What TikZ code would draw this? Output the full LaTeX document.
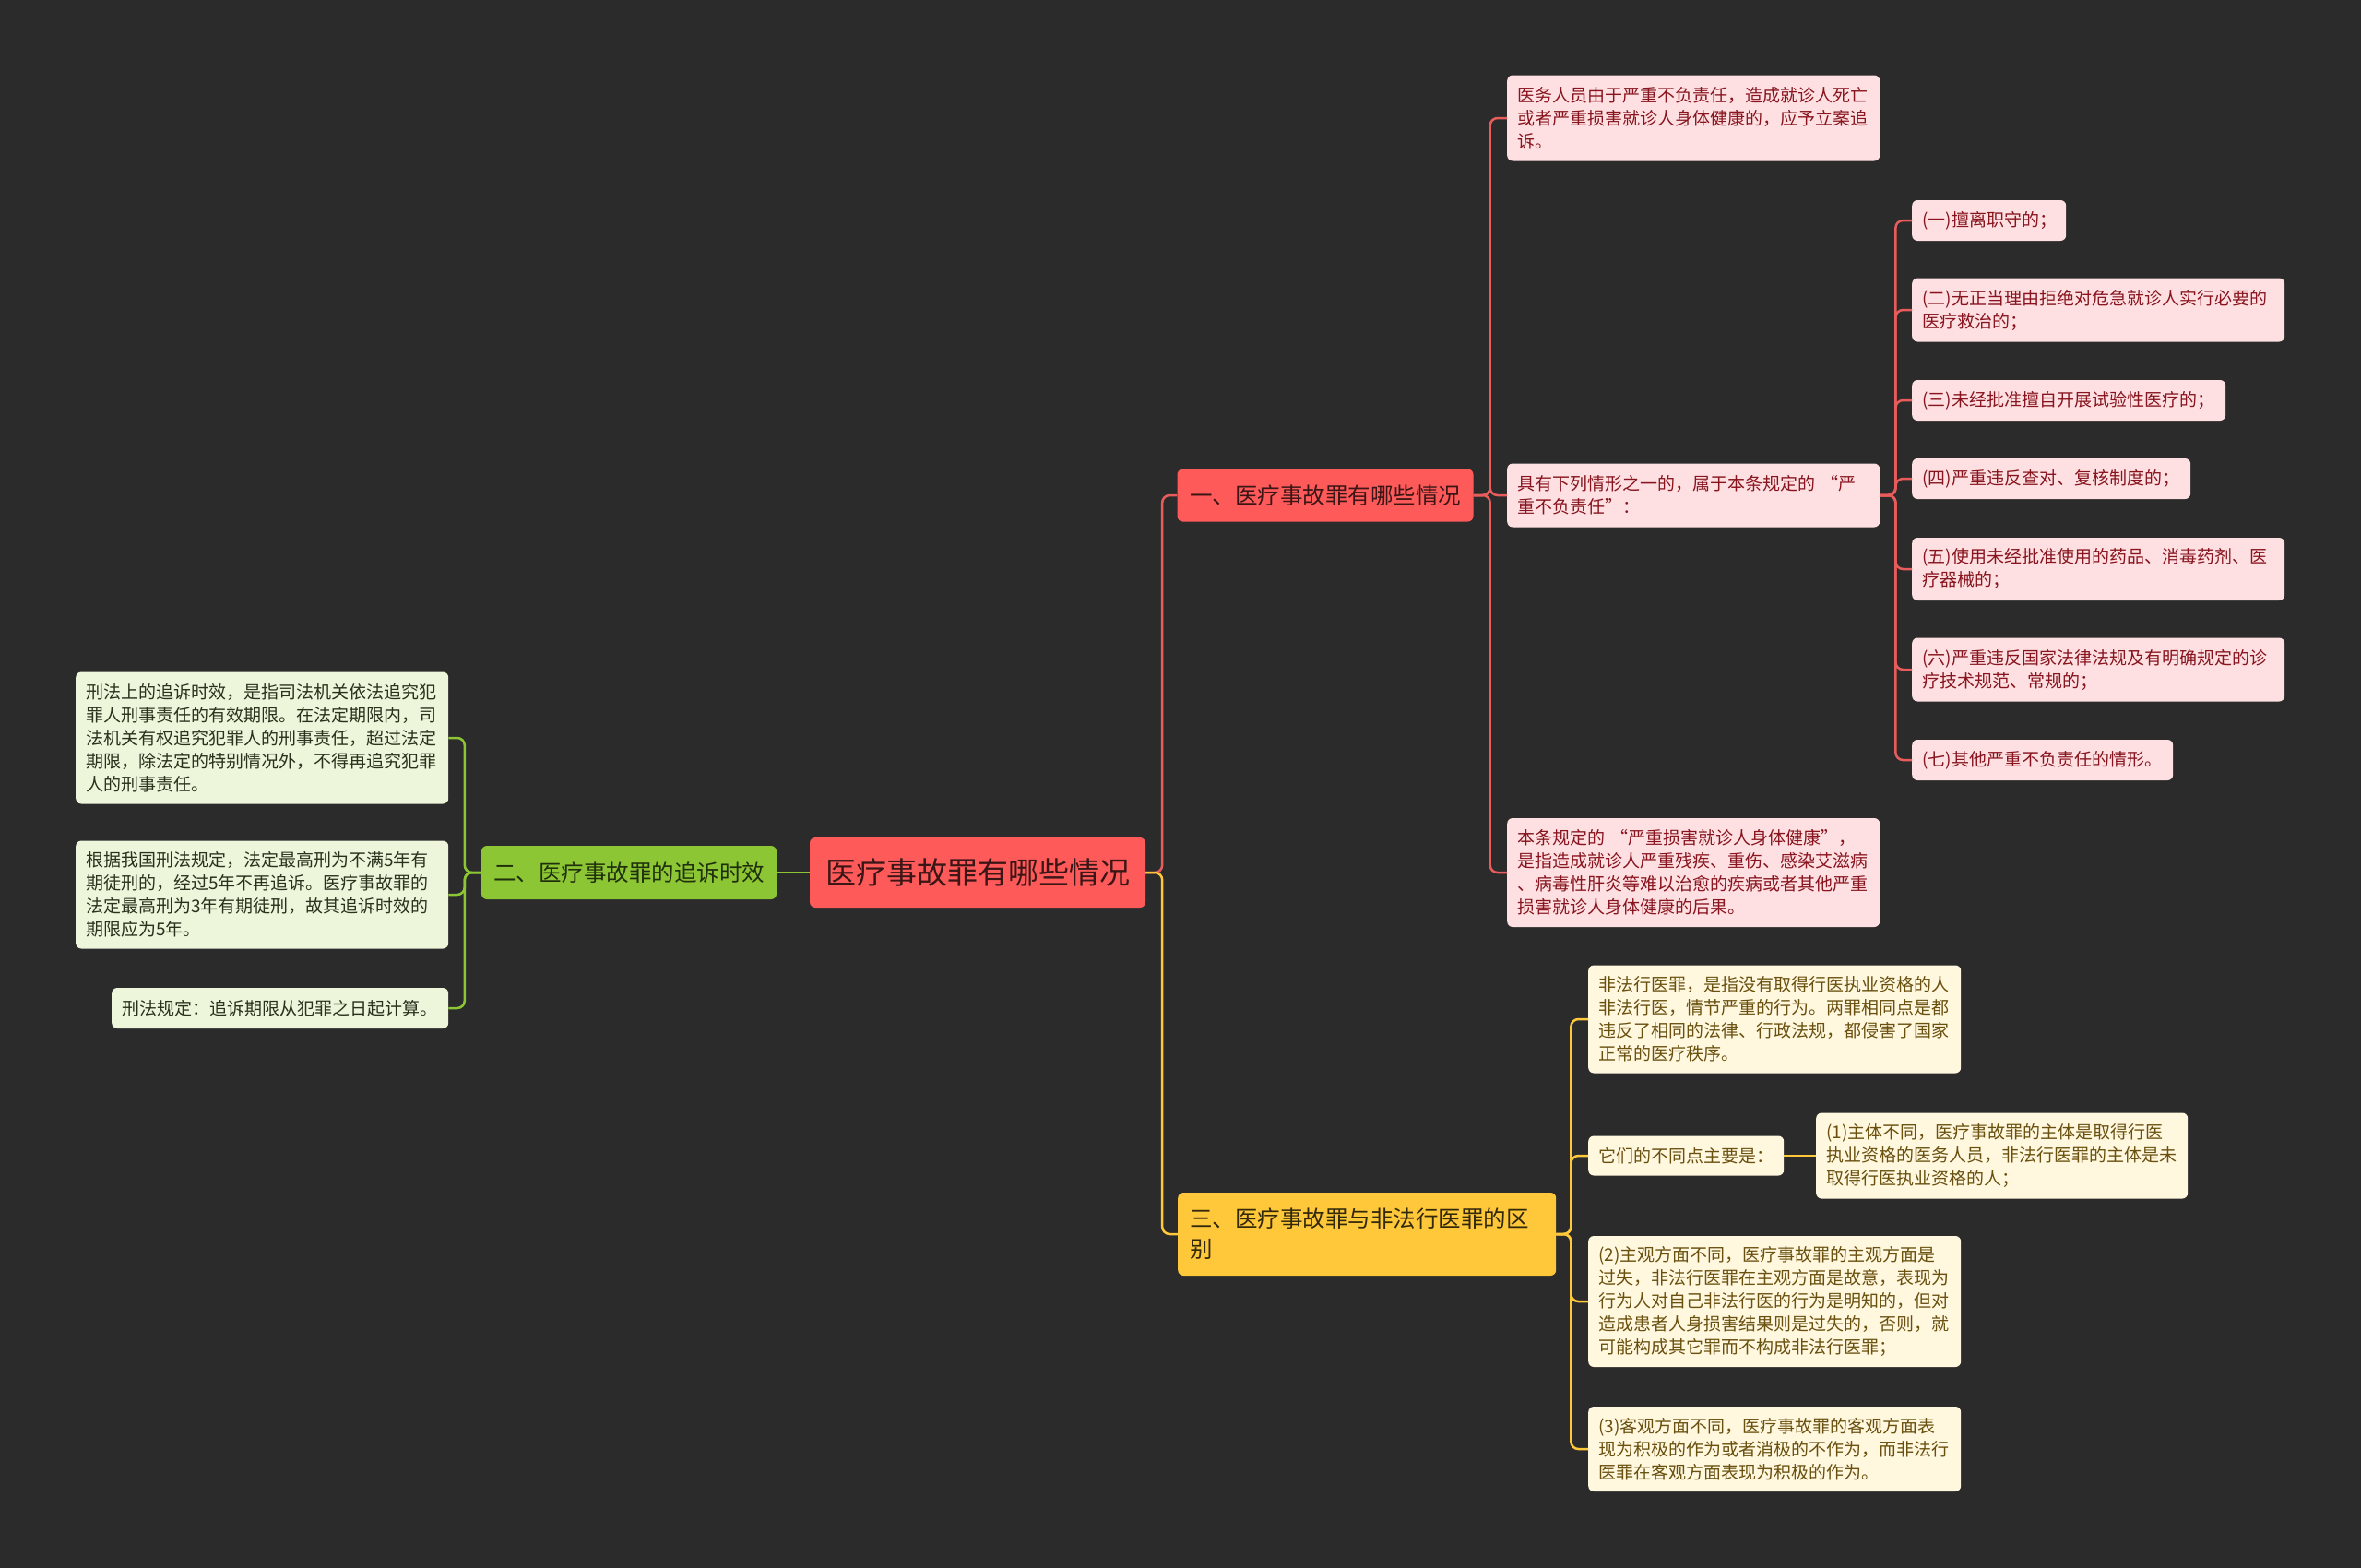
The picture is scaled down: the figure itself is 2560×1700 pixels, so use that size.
\documentclass[tikz,border=0pt]{standalone}
\usepackage{fontspec}
\setmainfont{Noto Sans CJK SC}
\usetikzlibrary{positioning}

\definecolor{bgdark}{RGB}{43,43,43}
\definecolor{rootred}{RGB}{255,90,90}
\definecolor{rootink}{RGB}{60,22,22}
\definecolor{redln}{RGB}{232,92,92}
\definecolor{pinkfill}{RGB}{255,224,226}
\definecolor{pinkink}{RGB}{135,20,30}
\definecolor{grnmain}{RGB}{140,198,52}
\definecolor{grnink}{RGB}{32,48,12}
\definecolor{grnfill}{RGB}{237,245,218}
\definecolor{grnleafink}{RGB}{40,50,28}
\definecolor{ylwmain}{RGB}{255,200,58}
\definecolor{ylwink}{RGB}{50,40,10}
\definecolor{ylwfill}{RGB}{255,247,222}
\definecolor{ylwleafink}{RGB}{105,80,15}

\begin{document}
\begin{tikzpicture}[
  x=1pt, y=-1pt,
  conn/.style={line width=2.5pt, rounded corners=8pt},
  redconn/.style={conn, draw=redln},
  grnconn/.style={conn, draw=grnmain},
  ylwconn/.style={conn, draw=ylwmain},
  box/.style={rounded corners=6pt, inner ysep=0pt},
  topic/.style={box, inner xsep=13pt, font={\fontsize{24.5pt}{33pt}\selectfont}},
  leaf/.style={box, anchor=west, align=left, inner xsep=11pt,
               font={\fontsize{19pt}{25pt}\selectfont}},
  redleaf/.style={leaf, fill=pinkfill, text=pinkink},
  grnleaf/.style={leaf, fill=grnfill, text=grnleafink},
  ylwleaf/.style={leaf, fill=ylwfill, text=ylwleafink},
]
  \fill[bgdark] (0,0) rectangle (2560,1700);

  % root and the three topics
  \node[box, fill=rootred, text=rootink, minimum width=364pt, minimum height=76pt,
        font={\fontsize{33pt}{40pt}\selectfont}] (root) at (1060,946) {医疗事故罪有哪些情况};
  \node[topic, fill=rootred, text=rootink, minimum width=321pt, minimum height=57pt]
    (sitn) at (1437,537) {一、医疗事故罪有哪些情况};
  \node[topic, fill=grnmain, text=grnink, minimum width=320pt, minimum height=58pt]
    (limit) at (682,946) {二、医疗事故罪的追诉时效};
  \node[topic, anchor=west, align=left, text width=384pt, minimum height=90pt,
        fill=ylwmain, text=ylwink] (diff) at (1277,1338)
    {三、医疗事故罪与非法行医罪的区\\别};

  % branch one
  \node[redleaf, text width=382pt, minimum height=93pt] (death) at (1634,128)
    {医务人员由于严重不负责任，造成就诊人死亡\\或者严重损害就诊人身体健康的，应予立案追\\诉。};
  \node[redleaf, text width=382pt, minimum height=69pt] (cases) at (1634,537)
    {具有下列情形之一的，属于本条规定的 “严\\重不负责任”：};
  \node[redleaf, text width=382pt, minimum height=118pt] (harm) at (1634,946)
    {本条规定的 “严重损害就诊人身体健康”，\\是指造成就诊人严重残疾、重伤、感染艾滋病\\、病毒性肝炎等难以治愈的疾病或者其他严重\\损害就诊人身体健康的后果。};

  \node[redleaf, text width=145pt, minimum height=44pt] (c1) at (2073,239) {(一)擅离职守的；};
  \node[redleaf, text width=382pt, minimum height=69pt] (c2) at (2073,336)
    {(二)无正当理由拒绝对危急就诊人实行必要的\\医疗救治的；};
  \node[redleaf, text width=318pt, minimum height=44pt] (c3) at (2073,434) {(三)未经批准擅自开展试验性医疗的；};
  \node[redleaf, text width=280pt, minimum height=44pt] (c4) at (2073,519) {(四)严重违反查对、复核制度的；};
  \node[redleaf, text width=382pt, minimum height=68pt] (c5) at (2073,617)
    {(五)使用未经批准使用的药品、消毒药剂、医\\疗器械的；};
  \node[redleaf, text width=382pt, minimum height=69pt] (c6) at (2073,726)
    {(六)严重违反国家法律法规及有明确规定的诊\\疗技术规范、常规的；};
  \node[redleaf, text width=261pt, minimum height=44pt] (c7) at (2073,824) {(七)其他严重不负责任的情形。};

  % branch two
  \node[grnleaf, text width=382pt, minimum height=143pt] (term) at (82,800)
    {刑法上的追诉时效，是指司法机关依法追究犯\\罪人刑事责任的有效期限。在法定期限内，司\\法机关有权追究犯罪人的刑事责任，超过法定\\期限，除法定的特别情况外，不得再追究犯罪\\人的刑事责任。};
  \node[grnleaf, text width=382pt, minimum height=117pt] (fiveyr) at (82,970)
    {根据我国刑法规定，法定最高刑为不满5年有\\期徒刑的，经过5年不再追诉。医疗事故罪的\\法定最高刑为3年有期徒刑，故其追诉时效的\\期限应为5年。};
  \node[grnleaf, text width=343pt, minimum height=44pt] (start) at (121,1093)
    {刑法规定：追诉期限从犯罪之日起计算。};

  % branch three
  \node[ylwleaf, text width=382pt, minimum height=117pt] (illegal) at (1722,1105)
    {非法行医罪，是指没有取得行医执业资格的人\\非法行医，情节严重的行为。两罪相同点是都\\违反了相同的法律、行政法规，都侵害了国家\\正常的医疗秩序。};
  \node[ylwleaf, text width=190pt, minimum height=43pt] (points) at (1722,1253) {它们的不同点主要是：};
  \node[ylwleaf, text width=381pt, minimum height=93pt] (subj) at (1969,1253)
    {(1)主体不同，医疗事故罪的主体是取得行医\\执业资格的医务人员，非法行医罪的主体是未\\取得行医执业资格的人；};
  \node[ylwleaf, text width=382pt, minimum height=142pt] (mind) at (1722,1411)
    {(2)主观方面不同，医疗事故罪的主观方面是\\过失，非法行医罪在主观方面是故意，表现为\\行为人对自己非法行医的行为是明知的，但对\\造成患者人身损害结果则是过失的，否则，就\\可能构成其它罪而不构成非法行医罪；};
  \node[ylwleaf, text width=382pt, minimum height=92pt] (act) at (1722,1571)
    {(3)客观方面不同，医疗事故罪的客观方面表\\现为积极的作为或者消极的不作为，而非法行\\医罪在客观方面表现为积极的作为。};

  % connectors
  \draw[redconn] (root.east) -- ++(18,0) |- (sitn.west);
  \draw[ylwconn] (root.east) -- ++(18,0) |- (diff.west);
  \draw[grnconn] (root.west) -- (limit.east);

  \foreach \n in {death,cases,harm}
    \draw[redconn] (sitn.east) -- ++(18,0) |- (\n.west);
  \foreach \n in {c1,c2,c3,c4,c5,c6,c7}
    \draw[redconn] (cases.east) -- ++(17,0) |- (\n.west);
  \foreach \n in {term,fiveyr,start}
    \draw[grnconn] (limit.west) -- ++(-18,0) |- (\n.east);
  \foreach \n in {illegal,points,mind,act}
    \draw[ylwconn] (diff.east) -- ++(16,0) |- (\n.west);
  \draw[ylwconn] (points.east) -- (subj.west);
\end{tikzpicture}
\end{document}
